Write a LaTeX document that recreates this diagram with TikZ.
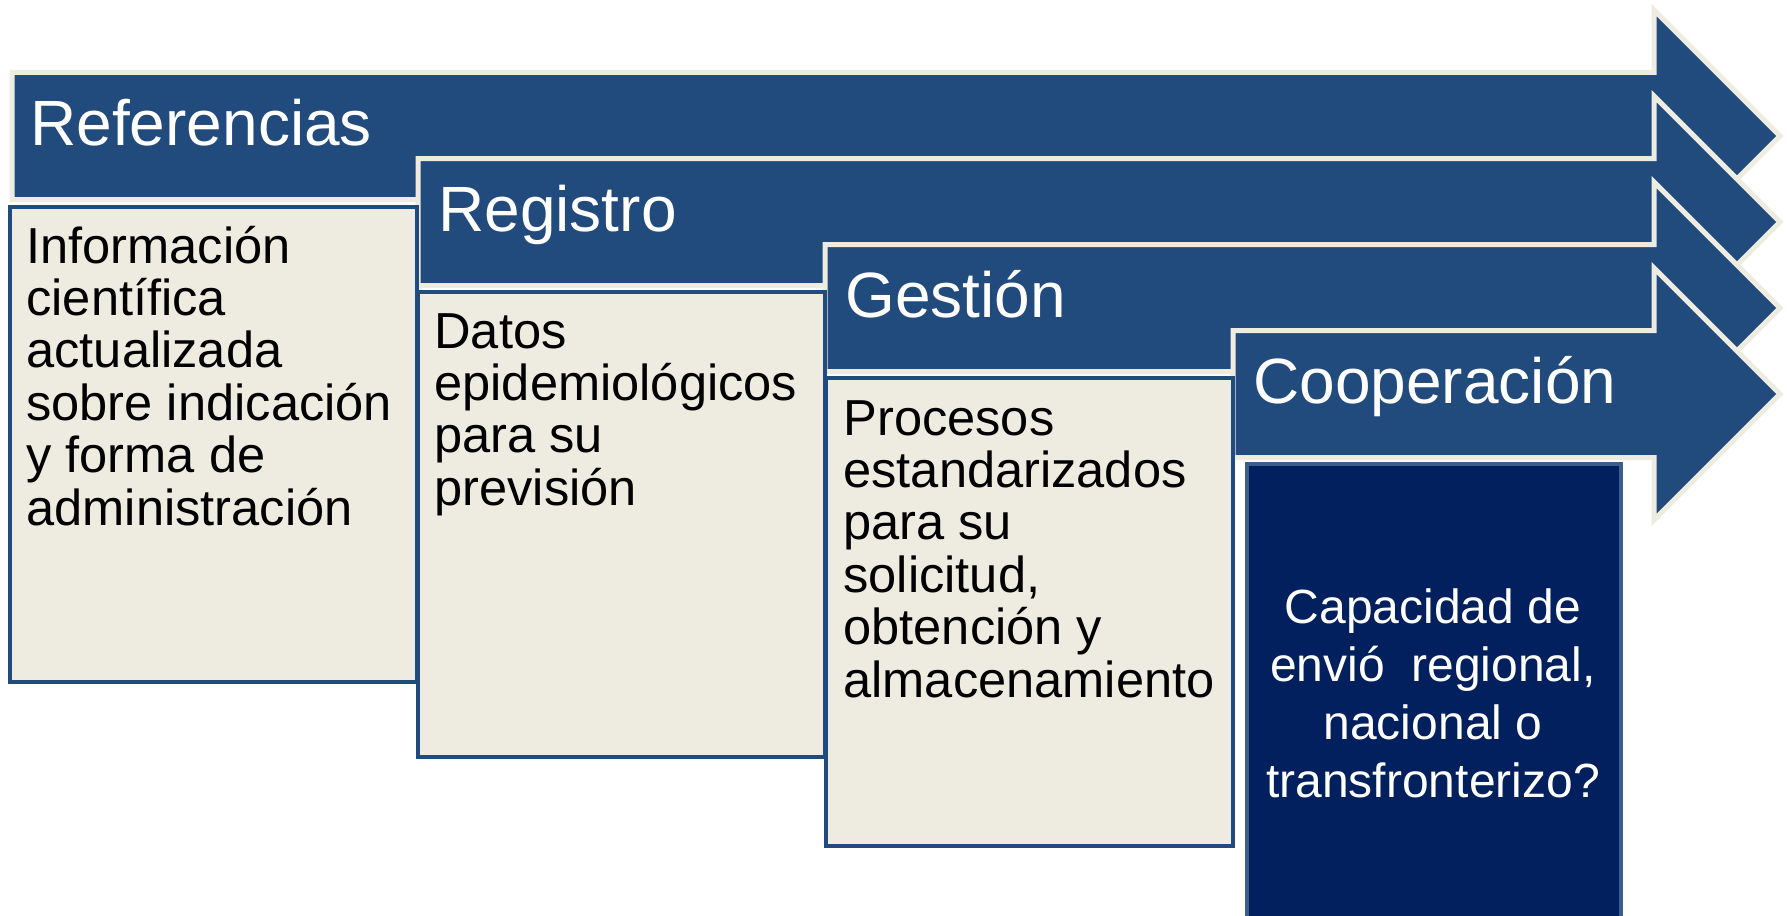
\documentclass[tikz,border=0pt]{standalone}
\usepackage{fontspec}
\setmainfont{Liberation Sans}
\definecolor{azul}{RGB}{33,74,125}
\definecolor{crema}{RGB}{238,236,225}
\definecolor{marino}{RGB}{2,32,94}
\definecolor{bordemarino}{RGB}{59,94,140}
\begin{document}
\begin{tikzpicture}[x=0.5pt,y=-0.5pt,
  flecha/.style={fill=azul,draw=crema,line width=2.5pt,miter limit=10},
  caja/.style={fill=crema,draw=azul,line width=2pt},
  titulo/.style={anchor=base west,inner sep=0pt,text=white,font=\fontsize{32}{36}\selectfont},
  texto/.style={anchor=base west,inner sep=0pt,font=\fontsize{25.3}{26.2}\selectfont}]
\clip (0,0) rectangle (1787,915);
\fill[white] (0,0) rectangle (1787,915);
\draw[flecha] (12,72.5) -- (1654,72.5) -- (1654,10) -- (1780,136) -- (1654,262) -- (1654,199.5) -- (12,199.5) -- cycle;
\draw[flecha] (418,158.5) -- (1654,158.5) -- (1654,96) -- (1780,222) -- (1654,348) -- (1654,285.5) -- (418,285.5) -- cycle;
\draw[flecha] (825,244.5) -- (1654,244.5) -- (1654,182) -- (1780,308) -- (1654,434) -- (1654,371.5) -- (825,371.5) -- cycle;
\draw[flecha] (1233,330.5) -- (1654,330.5) -- (1654,268) -- (1780,394) -- (1654,520) -- (1654,457.5) -- (1233,457.5) -- cycle;
\node[titulo] (ref) at (30,145) {Referencias};
\node[titulo] (reg) at (438,231) {Registro};
\node[titulo] (ges) at (845,317) {Gestión};
\node[titulo] (coop) at (1253,403) {Cooperación};
\draw[caja] (10,207) rectangle (417,682);
\draw[caja] (418,292) rectangle (825,757);
\draw[caja] (826,378) rectangle (1233,846);
\draw[fill=marino,draw=bordemarino,line width=2pt] (1247,464) rectangle (1621,930);
\node[texto] (info) at (26,263) {\parbox[t]{200pt}{\raggedright Información\\ científica\\ actualizada\\ sobre indicación\\ y forma de\\ administración}};
\node[texto] (datos) at (434,348) {\parbox[t]{200pt}{\raggedright Datos\\ epidemiológicos\\ para su\\ previsión}};
\node[texto] (proc) at (843,435) {\parbox[t]{200pt}{\raggedright Procesos\\ estandarizados\\ para su\\ solicitud,\\ obtención y\\ almacenamiento}};
\node[anchor=base,inner sep=0pt,text=white,font=\fontsize{24}{29}\selectfont] (cap) at (1433,623) {\parbox[t]{180pt}{\centering Capacidad de\\ envió\ \ regional,\\ nacional o\\ transfronterizo?}};
\end{tikzpicture}
\end{document}
